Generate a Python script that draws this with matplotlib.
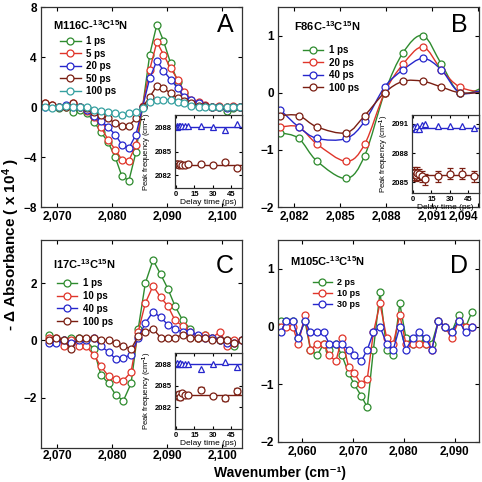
import matplotlib
matplotlib.use("Agg")
import matplotlib.pyplot as plt
from matplotlib.path import Path
from matplotlib.patches import PathPatch
from matplotlib.lines import Line2D
from matplotlib.ticker import FuncFormatter

plt.rcParams['font.family'] = ['Liberation Sans', 'DejaVu Sans']
plt.rcParams['font.weight'] = 'bold'
plt.rcParams['mathtext.fontset'] = 'custom'
plt.rcParams['mathtext.rm'] = 'Liberation Sans:bold'
plt.rcParams['mathtext.bf'] = 'Liberation Sans:bold'
plt.rcParams['mathtext.it'] = 'Liberation Sans:bold'

GREEN = '#2e8b2e'
RED = '#e0352a'
BLUE = '#2626cc'
DRED = '#7a1e12'
CYAN = '#35a0a0'

# ---- panel A: M116C ----
a_x = [2067.8, 2069.0, 2070.3, 2071.6, 2072.9, 2074.1, 2075.4, 2076.7, 2077.9, 2079.2,
       2080.5, 2081.7, 2083.0, 2084.3, 2085.5, 2086.8, 2088.1, 2089.3, 2090.6, 2091.9,
       2093.1, 2094.4, 2095.7, 2096.9, 2098.2, 2099.5, 2100.8, 2102.0, 2103.3]
a_1ps = [0.2, 0.0, -0.1, 0.0, -0.4, -0.2, -0.5, -1.2, -2.0, -2.8, -4.0, -5.5, -5.9, -3.6, 0.0,
         4.2, 6.6, 5.3, 3.5, 2.0, 1.1, 0.5, 0.2, 0.1, 0.0, 0.0, -0.3, -0.1, 0.0]
a_5ps = [0.3, 0.2, 0.0, 0.1, 0.3, 0.0, -0.3, -0.8, -1.6, -2.6, -3.4, -4.2, -4.3, -3.0, 0.1,
         3.0, 5.2, 4.2, 3.1, 2.2, 1.2, 0.6, 0.4, 0.2, 0.0, 0.1, 0.0, 0.1, 0.0]
a_20ps = [0.0, 0.1, 0.0, 0.2, 0.0, 0.0, -0.2, -0.7, -1.1, -1.6, -2.2, -3.0, -3.3, -2.2, 0.0,
          2.3, 3.7, 2.9, 2.2, 1.5, 0.8, 0.6, 0.3, 0.1, 0.0, 0.0, -0.1, 0.0, 0.0]
a_50ps = [0.3, 0.2, 0.0, 0.0, 0.3, 0.0, -0.1, -0.4, -0.6, -0.9, -1.3, -1.5, -1.5, -0.9, 0.0,
          0.8, 1.7, 1.5, 1.1, 0.7, 0.5, 0.3, 0.1, 0.1, 0.0, 0.0, 0.0, 0.0, 0.0]
a_100ps = [0.0, -0.1, 0.0, 0.1, 0.0, 0.0, 0.0, -0.2, -0.3, -0.4, -0.5, -0.6, -0.5, -0.4, -0.1,
           0.4, 0.6, 0.6, 0.6, 0.4, 0.3, 0.1, 0.0, 0.0, 0.0, 0.0, 0.0, 0.0, 0.0]
a_labels = ['1 ps', '5 ps', '20 ps', '50 ps', '100 ps']

# ---- panel B: F86C ----
b_x = [2081.1, 2082.3, 2083.5, 2085.4, 2086.6, 2087.9, 2089.1, 2090.4, 2091.6, 2092.8, 2094.4]
b_1ps = [-0.7, -0.8, -1.2, -1.5, -1.1, 0.0, 0.7, 1.0, 0.5, 0.0, 0.1]
b_20ps = [-0.6, -0.6, -0.9, -1.2, -0.9, 0.0, 0.5, 0.8, 0.4, 0.1, 0.0]
b_40ps = [-0.3, -0.6, -0.8, -0.8, -0.5, 0.1, 0.4, 0.6, 0.4, 0.0, 0.05]
b_100ps = [-0.4, -0.4, -0.6, -0.7, -0.4, 0.0, 0.2, 0.2, 0.1, 0.0, 0.0]
b_labels = ['1 ps', '20 ps', '40 ps', '100 ps']

# ---- panel C: I17C ----
c_x = [2068.5, 2069.8, 2071.2, 2072.5, 2073.9, 2075.2, 2076.6, 2077.9, 2079.3, 2080.6,
       2082.0, 2083.4, 2084.7, 2086.0, 2087.4, 2088.8, 2090.1, 2091.4, 2092.8, 2094.2,
       2095.5, 2096.8, 2098.2, 2099.6, 2100.9, 2102.2, 2103.6]
c_1ps = [0.2, 0.05, 0.0, 0.1, 0.1, 0.0, -0.3, -1.2, -1.5, -1.9, -2.1, -1.5, 0.4, 2.0, 2.8,
         2.3, 1.8, 1.2, 0.7, 0.4, 0.1, 0.2, 0.1, 0.0, 0.0, -0.2, 0.0]
c_10ps = [0.1, 0.1, -0.2, 0.0, -0.2, -0.2, -0.5, -0.9, -1.25, -1.35, -1.4, -1.1, 0.3, 1.3, 1.9,
          1.5, 1.2, 0.7, 0.5, 0.3, 0.1, 0.2, 0.1, 0.3, -0.2, 0.0, 0.0]
c_40ps = [-0.1, -0.1, 0.0, -0.1, 0.0, 0.0, 0.1, -0.2, -0.4, -0.65, -0.6, -0.5, 0.1, 0.6, 1.0,
          0.8, 0.55, 0.4, 0.3, 0.3, 0.2, 0.1, 0.1, 0.0, -0.1, -0.1, 0.0]
c_100ps = [0.0, 0.1, 0.0, -0.3, 0.1, 0.1, 0.1, 0.0, 0.0, -0.1, -0.2, -0.3, 0.15, 0.3, 0.4,
           0.1, 0.1, 0.1, 0.2, 0.1, 0.1, 0.1, 0.0, 0.0, 0.0, -0.1, 0.0]
c_labels = ['1 ps', '10 ps', '40 ps', '100 ps']

# ---- panel D: M105C ----
d_x = [2055.7, 2056.8, 2058.1, 2059.2, 2060.5, 2061.6, 2062.9, 2064.2, 2065.3, 2066.6,
       2067.8, 2069.1, 2070.2, 2071.6, 2072.8, 2074.0, 2075.3, 2076.6, 2077.9, 2079.2,
       2080.4, 2081.7, 2083.0, 2084.3, 2085.5, 2086.8, 2088.1, 2089.4, 2090.8, 2092.2, 2093.4]
d_2ps = [0.1, 0.1, 0.1, -0.2, 0.1, -0.4, -0.5, -0.3, -0.4, -0.3, -0.5, -0.8, -1.0, -1.2, -1.4,
         -0.4, 0.6, -0.4, -0.5, 0.4, -0.2, -0.3, -0.2, -0.3, -0.3, 0.1, 0.0, -0.1, 0.2, 0.0, 0.25]
d_10ps = [0.0, 0.0, 0.0, -0.3, 0.2, -0.4, -0.3, -0.3, -0.5, -0.6, -0.2, -0.7, -0.8, -1.0, -0.9,
          -0.1, 0.4, -0.2, -0.3, 0.2, -0.3, -0.3, -0.3, -0.3, -0.4, 0.1, 0.0, -0.2, 0.1, 0.0, 0.0]
d_30ps = [-0.1, 0.1, 0.1, -0.2, 0.1, -0.1, -0.1, -0.1, -0.3, -0.3, -0.3, -0.4, -0.5, -0.6, -0.4,
          -0.1, 0.0, -0.3, -0.4, 0.0, -0.4, -0.2, -0.1, -0.2, -0.4, 0.1, 0.0, -0.1, 0.1, -0.1, 0.0]
d_labels = ['2 ps', '10 ps', '30 ps']

# ---- insets: peak frequency vs delay time ----
delay = [0.5, 1, 2, 3, 5, 7, 10, 20, 30, 40, 50]
a_hi = [2088.2, 2088.1, 2088.2, 2088.3, 2088.2, 2088.2, 2088.3, 2088.2, 2088.1, 2087.8, 2088.5]
a_lo = [2083.4, 2083.4, 2083.3, 2083.4, 2083.3, 2083.3, 2083.4, 2083.4, 2083.3, 2083.6, 2082.9]
a_fit = (2088.1, 2083.3)
b_hi = [2090.6, 2090.7, 2090.5, 2090.8, 2090.5, 2090.9, 2091.0, 2090.8, 2090.8, 2090.8, 2090.6]
b_lo = [2085.8, 2086.0, 2085.7, 2086.0, 2085.8, 2085.6, 2085.3, 2085.6, 2085.9, 2085.9, 2085.6]
b_err = [0.6] * 11
b_fit = (2090.6, 2085.7)
c_hi = [2088.1, 2088.2, 2088.1, 2088.2, 2088.0, 2088.1, 2088.0, 2087.4, 2088.0, 2088.3, 2087.6]
c_lo = [2083.6, 2083.7, 2083.9, 2083.4, 2084.0, 2083.8, 2083.7, 2084.5, 2083.6, 2083.3, 2084.3]
c_err = [0.2, 0.2, 0.2, 0.3, 0.2, 0.2, 0.2, 0.35, 0.2, 0.35, 0.35]
c_fit = (2088.0, 2083.8)

W = H = 482
fig = plt.figure(figsize=(W / 100, H / 100), dpi=100)


def box(l, t, r, b):
    return [l / W, 1 - b / H, (r - l) / W, (b - t) / H]


def comma(v, pos):
    return '{:,.0f}'.format(v)


def style(ax, size=8.5):
    ax.tick_params(direction='in', top=True, right=True, length=3, width=0.8,
                   labelsize=size, pad=3)
    for s in ax.spines.values():
        s.set_linewidth(0.9)
        s.set_color('#333333')


def smooth(ax, x, y, c):
    # catmull-rom through the points, drawn as bezier path
    n = len(x)
    verts = [(x[0], y[0])]
    codes = [Path.MOVETO]
    for i in range(n - 1):
        x0, y0 = (x[i - 1], y[i - 1]) if i > 0 else (x[i], y[i])
        x3, y3 = (x[i + 2], y[i + 2]) if i + 2 < n else (x[i + 1], y[i + 1])
        c1 = (x[i] + (x[i + 1] - x0) / 6, y[i] + (y[i + 1] - y0) / 6)
        c2 = (x[i + 1] - (x3 - x[i]) / 6, y[i + 1] - (y3 - y[i]) / 6)
        verts += [c1, c2, (x[i + 1], y[i + 1])]
        codes += [Path.CURVE4] * 3
    ax.add_patch(PathPatch(Path(verts, codes), fill=False, edgecolor=c, lw=1))


def series(ax, x, ys, colors, labels, curved=False, ms=5):
    handles = []
    for y, c, lab in zip(ys, colors, labels):
        if curved:
            smooth(ax, x, y, c)
            ax.plot(x, y, 'o', mfc='white', mec=c, ms=ms, mew=0.9)
        else:
            ax.plot(x, y, '-o', color=c, lw=1, mfc='white', mec=c, ms=ms, mew=0.9)
        handles.append(Line2D([], [], color=c, lw=1, marker='o', mfc='white', mec=c,
                              ms=ms, mew=0.9))
    return handles


def legend(ax, handles, labels, anchor, size=7, spacing=0.27):
    ax.legend(handles, labels, loc='upper left', bbox_to_anchor=anchor, frameon=False,
              fontsize=size, handlelength=2.1, handletextpad=0.6, labelspacing=spacing,
              borderpad=0, borderaxespad=0)


def heading(ax, name, letter, pos, lpos):
    ax.text(pos[0], pos[1], name, transform=ax.transAxes, fontsize=8, va='center')
    ax.text(lpos[0], lpos[1], letter, transform=ax.transAxes, fontsize=18,
            weight='normal', ha='center', va='center')


def inset(rect, hi, lo, fit, err, ylim, yticks):
    ax = fig.add_axes(rect)
    ax.axhline(fit[0], color=BLUE, lw=1)
    ax.axhline(fit[1], color=DRED, lw=1)
    ax.plot(delay, hi, '^', mfc='white', mec=BLUE, ms=4.5, mew=0.9)
    if err is None:
        ax.plot(delay, lo, 'o', mfc='white', mec=DRED, ms=5, mew=0.9)
    else:
        ax.errorbar(delay, lo, yerr=err, fmt='o', mfc='white', mec=DRED, ecolor=DRED,
                    ms=5, mew=0.9, elinewidth=0.8, capsize=2)
    ax.set_xlim(-1, 54)
    ax.set_ylim(*ylim)
    ax.set_xticks([0, 15, 30, 45])
    ax.set_yticks(yticks)
    style(ax, 5.5)
    ax.tick_params(pad=2, length=2.5)
    ax.set_xlabel('Delay time (ps)', fontsize=6, labelpad=1)
    ax.set_ylabel('Peak frequency (cm$^{-1}$)', fontsize=5.5, labelpad=1)
    return ax


# panel A
axA = fig.add_axes(box(41, 7, 242, 207))
hA = series(axA, a_x, [a_1ps, a_5ps, a_20ps, a_50ps, a_100ps],
            [GREEN, RED, BLUE, DRED, CYAN], a_labels)
axA.set_xlim(2067, 2103.6)
axA.set_ylim(-8, 8)
axA.set_yticks([-8, -4, 0, 4, 8])
axA.set_xticks([2070, 2080, 2090, 2100])
legend(axA, hA, a_labels, (0.095, 0.855))
heading(axA, 'M116C-$^{13}$C$^{15}$N', 'A', (0.06, 0.91), (0.915, 0.91))

# panel B
axB = fig.add_axes(box(278, 7, 479, 207))
hB = series(axB, b_x, [b_1ps, b_20ps, b_40ps, b_100ps], [GREEN, RED, BLUE, DRED],
            b_labels, curved=True)
axB.set_xlim(2080.95, 2094.05)
axB.set_ylim(-2, 1.5)
axB.set_yticks([-2, -1, 0, 1])
axB.set_xticks([2082, 2085, 2088, 2091, 2094])
legend(axB, hB, b_labels, (0.124, 0.81))
heading(axB, 'F86C-$^{13}$C$^{15}$N', 'B', (0.08, 0.905), (0.9, 0.91))

# panel C
axC = fig.add_axes(box(41, 240, 242, 448))
hC = series(axC, c_x, [c_1ps, c_10ps, c_40ps, c_100ps], [GREEN, RED, BLUE, DRED], c_labels)
axC.set_xlim(2067, 2103.6)
axC.set_ylim(-3.75, 3.5)
axC.set_yticks([-2, 0, 2])
axC.set_xticks([2070, 2080, 2090, 2100])
legend(axC, hC, c_labels, (0.08, 0.817), spacing=0.3)
heading(axC, 'I17C-$^{13}$C$^{15}$N', 'C', (0.06, 0.885), (0.915, 0.875))

# panel D
axD = fig.add_axes(box(278, 240, 479, 442))
hD = series(axD, d_x, [d_2ps, d_10ps, d_30ps], [GREEN, RED, BLUE], d_labels, ms=5)
axD.set_xlim(2055.2, 2094.8)
axD.set_ylim(-2, 1.5)
axD.set_yticks([-2, -1, 0, 1])
axD.set_xticks([2060, 2070, 2080, 2090])
legend(axD, hD, d_labels, (0.174, 0.812), size=6.5, spacing=0.22)
heading(axD, 'M105C-$^{13}$C$^{15}$N', 'D', (0.06, 0.896), (0.9, 0.87))

for ax in (axA, axB, axC, axD):
    ax.xaxis.set_major_formatter(FuncFormatter(comma))
    style(ax)
axC.tick_params(axis='x', pad=1.5)
axB.get_xticklabels()[-1].set_horizontalalignment('right')

inset(box(175, 115, 242, 188), a_hi, a_lo, a_fit, None, (2080.35, 2089.65), [2082, 2085, 2088])
inset(box(412, 115, 479, 193), b_hi, b_lo, b_fit, b_err, (2083.9, 2091.9), [2085, 2088, 2091])
inset(box(175, 353, 242, 429), c_hi, c_lo, c_fit, c_err, (2079.0, 2089.6), [2082, 2085, 2088])

fig.text(11 / W, 1 - 245 / H, '- \u0394 Absorbance ( x 10$^4$ )', rotation=90, ha='center',
         va='center', fontsize=11)
fig.text(280 / W, 1 - 480 / H, 'Wavenumber (cm\u207b\u00b9)', ha='center', va='bottom',
         fontsize=10)

fig.savefig('out.png', dpi=100)
